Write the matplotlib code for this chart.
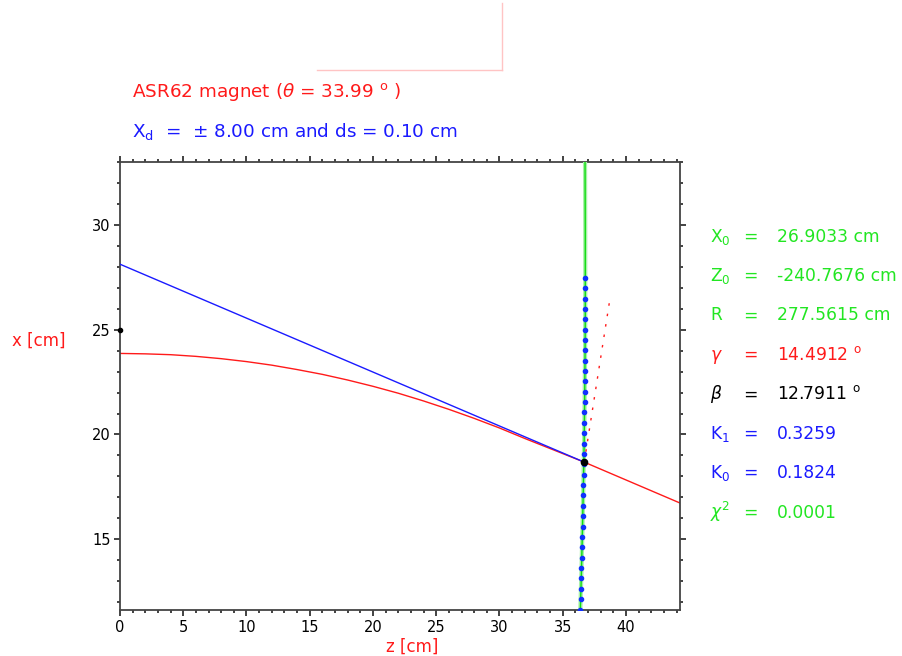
import matplotlib
matplotlib.use('Agg')
import matplotlib.pyplot as plt
from matplotlib.lines import Line2D
from matplotlib.ticker import MultipleLocator

W, H = 903, 656

# ---------------- data ----------------
red_z = [0, 2, 4, 6, 8, 10, 12, 14, 16, 18, 20, 22, 24, 26, 28, 30, 32, 36.70, 44.30]
red_x = [23.87, 23.85, 23.81, 23.73, 23.62, 23.48, 23.31, 23.10, 22.87, 22.60,
         22.30, 21.97, 21.60, 21.20, 20.77, 20.31, 19.81, 18.68, 16.72]

blue_z = [0.0, 36.70]
blue_x = [28.13, 18.68]

green_x = [11.0, 11.6, 13.5, 15.5, 17.5, 19.5, 21.5, 23.5, 25.5, 27.5, 29.5, 31.5, 33.5]
green_z = [36.36, 36.39, 36.48, 36.56, 36.63, 36.69, 36.73, 36.76, 36.78, 36.78, 36.78, 36.77, 36.76]

dot_x = [27.48, 26.99, 26.49, 26.00, 25.50, 25.01, 24.51, 24.02, 23.52, 23.03, 22.53,
         22.04, 21.54, 21.05, 20.55, 20.06, 19.56, 19.07, 18.57, 18.08, 17.58, 17.09,
         16.59, 16.10, 15.60, 15.11, 14.61, 14.12, 13.62, 13.13, 12.63, 12.14, 11.64]
dot_z = [36.78, 36.78, 36.78, 36.78, 36.78, 36.77, 36.77, 36.77, 36.76, 36.75, 36.75,
         36.74, 36.73, 36.72, 36.71, 36.70, 36.69, 36.68, 36.66, 36.65, 36.63, 36.62,
         36.60, 36.58, 36.57, 36.55, 36.53, 36.51, 36.48, 36.46, 36.44, 36.42, 36.39]

cross_z = [36.70]
cross_x = [18.68]

dash_z = [36.70, 38.68]
dash_x = [18.68, 26.28]

mark_z = [0.0]
mark_x = [25.0]

title1 = r'ASR62 magnet ($\theta$ = 33.99 $^{\rm o}$ )'
title2 = r'X$_{\rm d}$  =  $\pm$ 8.00 cm and ds = 0.10 cm'

par_labels = [r'X$_{\rm 0}$', r'Z$_{\rm 0}$', 'R', r'$\gamma$', r'$\beta$',
              r'K$_{\rm 1}$', r'K$_{\rm 0}$', r'$\chi^{2}$']
par_values = ['26.9033 cm', '-240.7676 cm', '277.5615 cm', r'14.4912 $^{\rm o}$',
              r'12.7911 $^{\rm o}$', '0.3259', '0.1824', '0.0001']

GREEN = '#22e622'
RED = '#ff1a1a'
BLUE = '#1a1aff'
par_colors = [GREEN, GREEN, GREEN, RED, 'black', BLUE, BLUE, GREEN]

# ---------------- figure ----------------
plt.rcParams['font.family'] = ['DejaVu Sans']
plt.rcParams['mathtext.fontset'] = 'dejavusans'

fig = plt.figure(figsize=(W / 100, H / 100), dpi=100)
ax = fig.add_axes([120 / W, 1 - 610 / H, (680 - 120) / W, (610 - 162) / H])

ax.plot(red_z, red_x, color=RED, lw=1.0, zorder=2)
ax.plot(blue_z, blue_x, color=BLUE, lw=1.0, zorder=3)
ax.plot(green_z, green_x, color='#a8f0a8', lw=3.0, zorder=3, solid_capstyle='butt')
ax.plot(green_z, green_x, color='#10dd10', lw=1.0, zorder=4)
ax.plot(dash_z, dash_x, color=RED, lw=1.0, dashes=(1.8, 5.8), zorder=3)
ax.plot(dot_z, dot_x, linestyle='none', marker='o', markersize=3.0,
        markerfacecolor='#1030ff', markeredgecolor='#1030ff', zorder=5)
ax.plot(cross_z, cross_x, linestyle='none', marker='o', markersize=4.5,
        color='black', zorder=6)
ax.plot(mark_z, mark_x, linestyle='none', marker='o', markersize=3,
        color='black', zorder=6, clip_on=False)

ax.set_xlim(0, 44.27)
ax.set_ylim(11.62, 33.01)
ax.xaxis.set_major_locator(MultipleLocator(5))
ax.xaxis.set_minor_locator(MultipleLocator(1))
ax.yaxis.set_major_locator(MultipleLocator(5))
ax.yaxis.set_minor_locator(MultipleLocator(1))

for sp in ax.spines.values():
    sp.set_color('#444444')
    sp.set_linewidth(1.3)

ax.tick_params(which='both', direction='out', top=True, right=True,
               labeltop=False, labelright=False, color='#222222', width=1.2,
               labelsize=10.5)
ax.tick_params(which='major', length=4.3)
ax.tick_params(which='minor', length=2.2)
ax.tick_params(axis='y', which='major', pad=2.5)
ax.tick_params(axis='x', which='major', pad=3.0)

# axis labels
fig.text(12 / W, 1 - 341 / H, 'x [cm]', color=RED, fontsize=12, ha='left', va='center')
fig.text(412 / W, 1 - 647 / H, 'z [cm]', color=RED, fontsize=12, ha='center', va='center')

# titles
fig.text(132 / W, 1 - 97.3 / H, title1, color=RED, fontsize=13.2, ha='left', va='baseline')
fig.text(132 / W, 1 - 136.7 / H, title2, color=BLUE, fontsize=13.2, ha='left', va='baseline')

# parameter block
for i, (lab, val, col) in enumerate(zip(par_labels, par_values, par_colors)):
    yb = 1 - (241.7 + i * 39.4) / H
    fig.text(710 / W, yb, lab, color=col, fontsize=12.3, ha='left', va='baseline')
    fig.text(743 / W, yb, '=', color=col, fontsize=12.3, ha='left', va='baseline')
    fig.text(777 / W, yb, val, color=col, fontsize=12.3, ha='left', va='baseline')

# pink frame corner at top
fig.add_artist(Line2D([317 / W, 502 / W], [1 - 70 / H, 1 - 70 / H],
                      transform=fig.transFigure, color='#ffc4c4', lw=1.0))
fig.add_artist(Line2D([502 / W, 502 / W], [1 - 3 / H, 1 - 70 / H],
                      transform=fig.transFigure, color='#ffc4c4', lw=1.0))

fig.savefig('out.png', dpi=100)
